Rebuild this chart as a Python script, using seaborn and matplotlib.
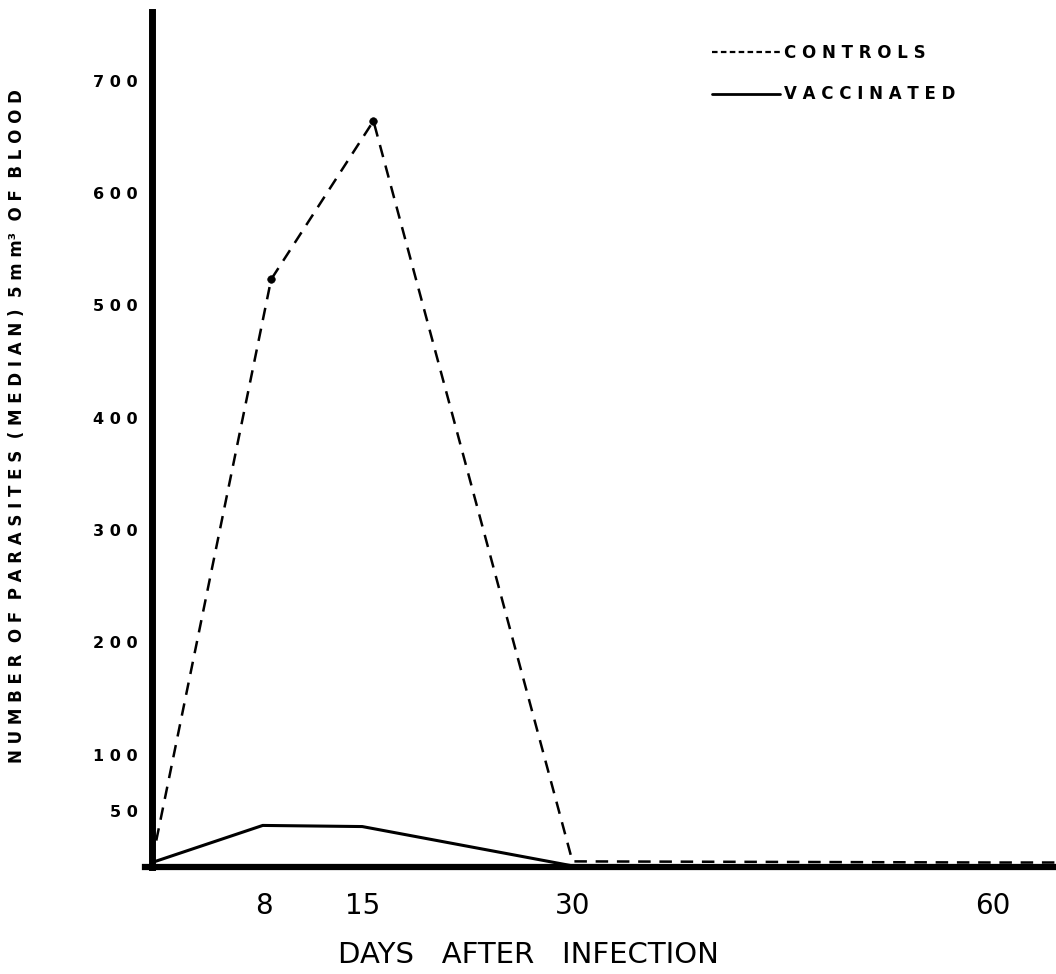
import matplotlib
matplotlib.use("Agg")
import matplotlib.pyplot as plt
from matplotlib.lines import Line2D
import seaborn as sns

# Data
days_controls = [0, 8.5, 15.8, 30, 60, 64.5]
controls = [5, 523, 664, 5, 4, 4]
days_vaccinated = [0, 7.9, 15, 30, 60, 64.5]
vaccinated = [4, 37, 36, 1, 0, 0]
series_names = ["CONTROLS", "VACCINATED"]
x_ticks = [8, 15, 30, 60]
y_ticks = [50, 100, 200, 300, 400, 500, 600, 700]


def spaced(s):
    return " ".join(s)


sns.set_style("white")
plt.rcParams["font.family"] = ["DejaVu Sans"]
plt.rcParams.update({
    "text.color": "black",
    "axes.labelcolor": "black",
    "axes.edgecolor": "black",
    "xtick.color": "black",
    "ytick.color": "black",
})

fig = plt.figure(figsize=(10.56, 9.74), dpi=100)
ax = fig.add_axes([145 / 1056, 107 / 974, 911 / 1056, 855 / 974])

# Lines
sns.lineplot(x=days_controls, y=controls, ax=ax, color="black", lw=1.8,
             ls=(0, (5, 3.5)), sort=False, estimator=None)
sns.scatterplot(x=days_controls[1:3], y=controls[1:3], ax=ax, color="black",
                s=30, edgecolor="black", zorder=3)
sns.lineplot(x=days_vaccinated, y=vaccinated, ax=ax, color="black", lw=2.2,
             sort=False, estimator=None)

ax.set_xlim(-0.5, 64.5)
ax.set_ylim(0, 761)

# Axes lines
for side in ["top", "right"]:
    ax.spines[side].set_visible(False)
ax.spines["left"].set_position(("data", 0))
ax.spines["left"].set_linewidth(5)
ax.spines["bottom"].set_linewidth(4.5)

# Ticks
ax.set_xticks(x_ticks)
ax.set_xticklabels([str(t) for t in x_ticks], fontsize=20)
ax.tick_params(axis="x", direction="in", length=8, width=2, pad=18)
ax.set_yticks(y_ticks)
ax.set_yticklabels([spaced(str(t)) for t in y_ticks], fontsize=11.5,
                   fontweight="bold")
ax.tick_params(axis="y", direction="in", length=7, width=1.5, pad=10)

# Axis labels
ax.set_xlabel("DAYS   AFTER   INFECTION", fontsize=21)
ax.xaxis.set_label_coords((528 - 145) / 911, -(941 - 867) / 855)
ylab = ("N U M B E R  O F  P A R A S I T E S  ( M E D I A N )  "
        "5 m m³  O F  B L O O D")
ax.set_ylabel(ylab, fontsize=12, fontweight="bold", va="center")
ax.yaxis.set_label_coords((17 - 145) / 911, (867 - 426) / 855)

# Legend
handles = [Line2D([], [], color="black", lw=1.6, ls=(0, (2.5, 1.5))),
           Line2D([], [], color="black", lw=2)]
ax.legend(handles, [spaced(n) for n in series_names], loc="upper left",
          bbox_to_anchor=(712 / 1056, 1 - 44 / 974),
          bbox_transform=fig.transFigure, frameon=False,
          prop={"weight": "bold", "size": 12}, handlelength=4.1,
          handletextpad=0.2, labelspacing=1.4, borderpad=0, borderaxespad=0)

fig.savefig("out.png", dpi=100)
plt.close()
